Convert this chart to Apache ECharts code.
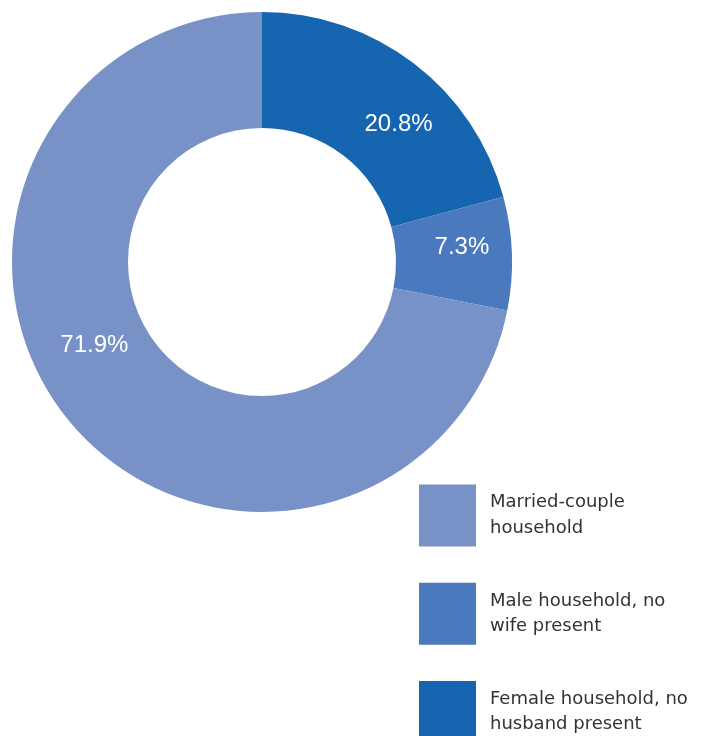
<!DOCTYPE html>
<html>
<head>
<meta charset="utf-8">
<style>
  html, body { margin: 0; padding: 0; background: #ffffff; }
  #chart { width: 709px; height: 736px; }
</style>
<script src="https://cdn.jsdelivr.net/npm/echarts@6/dist/echarts.min.js"></script>
</head>
<body>
<div id="chart"></div>
<script>
// Household type shares (percent), drawn clockwise from 12 o'clock
const categories = [
  'Female household, no husband present',
  'Male household, no wife present',
  'Married-couple household'
];
const shares = [20.8, 7.3, 71.9];
const colors = ['#1565b0', '#4a7abd', '#7892c8'];

// Legend order and wrapped legend text
const legendOrder = [
  'Married-couple household',
  'Male household, no wife present',
  'Female household, no husband present'
];
const legendText = {
  'Married-couple household': 'Married-couple\nhousehold',
  'Male household, no wife present': 'Male household, no\nwife present',
  'Female household, no husband present': 'Female household, no\nhusband present'
};

// Nudges for the in-slice percentage labels
const labelNudge = [[18, 17], [5, -8], [-17, -40]];

const chart = echarts.init(document.getElementById('chart'), null, { renderer: 'canvas' });

chart.setOption({
  animation: false,
  legend: {
    orient: 'vertical',
    left: 419,
    top: 471,
    height: 360,
    padding: 0,
    itemWidth: 57,
    itemHeight: 62,
    itemGap: 9,
    icon: 'rect',
    selectedMode: false,
    data: legendOrder,
    formatter: name => legendText[name],
    textStyle: {
      fontFamily: '"DejaVu Sans", sans-serif',
      fontSize: 18,
      lineHeight: 25.6,
      color: '#333333',
      padding: [0, 0, 38, 9]
    }
  },
  series: [{
    type: 'pie',
    center: [262, 262],
    radius: [134, 250],
    startAngle: 90,
    clockwise: true,
    avoidLabelOverlap: false,
    silent: true,
    itemStyle: { borderWidth: 0 },
    label: {
      show: true,
      position: 'inside',
      formatter: p => p.value.toFixed(1) + '%',
      color: '#ffffff',
      fontFamily: 'Arial, "Liberation Sans", sans-serif',
      fontSize: 24
    },
    labelLine: { show: false },
    labelLayout: params => ({
      dx: labelNudge[params.dataIndex][0],
      dy: labelNudge[params.dataIndex][1]
    }),
    data: categories.map((name, i) => ({
      name: name,
      value: shares[i],
      itemStyle: { color: colors[i] }
    }))
  }]
});
</script>
</body>
</html>
